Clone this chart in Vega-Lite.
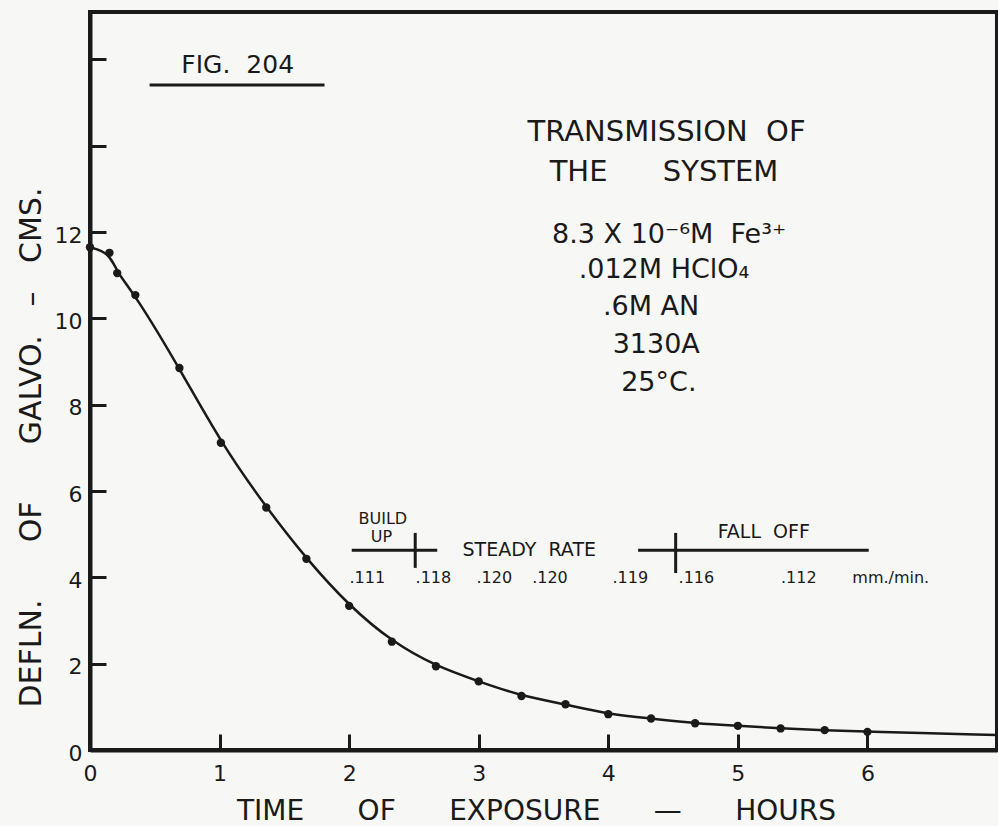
{
  "$schema": "https://vega.github.io/schema/vega-lite/v6.json",
  "width": 907,
  "height": 738,
  "autosize": {"type": "none"},
  "padding": {"left": 90, "top": 12, "right": 1, "bottom": 76},
  "background": "#f7f7f5",
  "config": {
    "view": {"stroke": "#1a1a1a", "strokeWidth": 4},
    "font": "DejaVu Sans",
    "text": {"font": "DejaVu Sans", "color": "#1a1a1a"}
  },
  "datasets": {
    "obs": [
      {"t": 0.0, "d": 11.65, "kind": "obs"},
      {"t": 0.15, "d": 11.52, "kind": "obs"},
      {"t": 0.21, "d": 11.05, "kind": "obs"},
      {"t": 0.35, "d": 10.54, "kind": "obs"},
      {"t": 0.69, "d": 8.85, "kind": "obs"},
      {"t": 1.01, "d": 7.12, "kind": "obs"},
      {"t": 1.36, "d": 5.62, "kind": "obs"},
      {"t": 1.67, "d": 4.43, "kind": "obs"},
      {"t": 2.0, "d": 3.34, "kind": "obs"},
      {"t": 2.33, "d": 2.51, "kind": "obs"},
      {"t": 2.67, "d": 1.94, "kind": "obs"},
      {"t": 3.0, "d": 1.59, "kind": "obs"},
      {"t": 3.33, "d": 1.25, "kind": "obs"},
      {"t": 3.67, "d": 1.06, "kind": "obs"},
      {"t": 4.0, "d": 0.83, "kind": "obs"},
      {"t": 4.33, "d": 0.73, "kind": "obs"},
      {"t": 4.67, "d": 0.62, "kind": "obs"},
      {"t": 5.0, "d": 0.56, "kind": "obs"},
      {"t": 5.33, "d": 0.5, "kind": "obs"},
      {"t": 5.67, "d": 0.46, "kind": "obs"},
      {"t": 6.0, "d": 0.42, "kind": "obs"},
      {"t": 7.0, "d": 0.35, "kind": "curve"}
    ],
    "titlenotes": [
      {"label": "TRANSMISSION\u00a0\u00a0OF", "t": 4.45, "d": 14.33},
      {"label": "THE\u00a0\u00a0\u00a0\u00a0\u00a0\u00a0SYSTEM", "t": 4.43, "d": 13.4}
    ],
    "bignotes": [
      {"label": "8.3 X 10⁻⁶M\u00a0\u00a0Fe³⁺", "t": 4.47, "d": 11.93},
      {"label": ".012M HClO₄", "t": 4.43, "d": 11.12},
      {"label": ".6M\u00a0AN", "t": 4.33, "d": 10.27},
      {"label": "3130A", "t": 4.37, "d": 9.38},
      {"label": "25°C.", "t": 4.39, "d": 8.5}
    ],
    "fignote": [
      {"label": "FIG.\u00a0\u00a0204", "t": 1.14, "d": 15.87}
    ],
    "midnotes": [
      {"label": "STEADY\u00a0\u00a0RATE", "t": 3.39, "d": 4.63},
      {"label": "FALL\u00a0\u00a0OFF", "t": 5.2, "d": 5.05}
    ],
    "smallnotes": [
      {"label": "BUILD", "t": 2.26, "d": 5.35},
      {"label": "UP", "t": 2.25, "d": 4.94},
      {"label": ".111", "t": 2.14, "d": 3.99},
      {"label": ".118", "t": 2.65, "d": 3.99},
      {"label": ".120", "t": 3.12, "d": 3.99},
      {"label": ".120", "t": 3.55, "d": 3.99},
      {"label": ".119", "t": 4.17, "d": 3.99},
      {"label": ".116", "t": 4.68, "d": 3.99},
      {"label": ".112", "t": 5.47, "d": 3.99},
      {"label": "mm./min.", "t": 6.18, "d": 3.99}
    ],
    "segs": [
      {"t": 2.02, "t2": 2.68, "d": 4.63, "d2": 4.63},
      {"t": 4.23, "t2": 6.01, "d": 4.63, "d2": 4.63},
      {"t": 2.51, "t2": 2.51, "d": 5.03, "d2": 4.22},
      {"t": 4.52, "t2": 4.52, "d": 5.03, "d2": 4.1},
      {"t": 0.46, "t2": 1.81, "d": 15.41, "d2": 15.41}
    ]
  },
  "encoding": {
    "x": {
      "field": "t", "type": "quantitative",
      "scale": {"domain": [0, 7], "nice": false},
      "axis": {
        "values": [0, 1, 2, 3, 4, 5, 6],
        "grid": false,
        "labelFlush": false,
        "domainColor": "#1a1a1a", "domainWidth": 4,
        "tickColor": "#1a1a1a", "tickWidth": 3, "tickSize": -16,
        "labelPadding": 29,
        "labelFontSize": 22, "labelColor": "#1a1a1a", "labelFont": "DejaVu Sans",
        "title": "TIME\u00a0\u00a0\u00a0\u00a0\u00a0\u00a0OF\u00a0\u00a0\u00a0\u00a0\u00a0\u00a0EXPOSURE\u00a0\u00a0\u00a0\u00a0\u00a0\u00a0—\u00a0\u00a0\u00a0\u00a0\u00a0\u00a0HOURS",
        "titleFontSize": 28, "titleFontWeight": "normal", "titleColor": "#1a1a1a",
        "titleFont": "DejaVu Sans", "titlePadding": 13,
        "titleX": 446
      }
    },
    "y": {
      "field": "d", "type": "quantitative",
      "scale": {"domain": [0, 17.1], "nice": false},
      "axis": {
        "values": [0, 2, 4, 6, 8, 10, 12, 14, 16],
        "labelExpr": "datum.value <= 12 ? datum.label : ''",
        "grid": false,
        "domainColor": "#1a1a1a", "domainWidth": 4,
        "tickColor": "#1a1a1a", "tickWidth": 3, "tickSize": -16,
        "labelPadding": 24,
        "labelOffset": 3,
        "labelFontSize": 22, "labelColor": "#1a1a1a", "labelFont": "DejaVu Sans",
        "title": "DEFLN.\u00a0\u00a0\u00a0\u00a0\u00a0\u00a0OF\u00a0\u00a0\u00a0\u00a0\u00a0\u00a0GALVO.\u00a0\u00a0\u00a0–\u00a0\u00a0\u00a0CMS.",
        "titleFontSize": 30, "titleFontWeight": "normal", "titleColor": "#1a1a1a",
        "titleFont": "DejaVu Sans", "titlePadding": 8,
        "titleY": 435
      }
    }
  },
  "layer": [
    {
      "data": {"name": "obs"},
      "mark": {"type": "line", "interpolate": "basis", "color": "#1a1a1a", "strokeWidth": 2.5}
    },
    {
      "data": {"name": "obs"},
      "transform": [{"filter": "datum.kind == 'obs'"}],
      "mark": {"type": "point", "filled": true, "color": "#1a1a1a", "size": 70, "opacity": 1}
    },
    {
      "data": {"name": "segs"},
      "mark": {"type": "rule", "color": "#1a1a1a", "strokeWidth": 3},
      "encoding": {
        "x2": {"field": "t2"},
        "y2": {"field": "d2"}
      }
    },
    {
      "data": {"name": "titlenotes"},
      "mark": {"type": "text", "fontSize": 29, "align": "center", "baseline": "middle"},
      "encoding": {"text": {"field": "label"}}
    },
    {
      "data": {"name": "bignotes"},
      "mark": {"type": "text", "fontSize": 27, "align": "center", "baseline": "middle"},
      "encoding": {"text": {"field": "label"}}
    },
    {
      "data": {"name": "fignote"},
      "mark": {"type": "text", "fontSize": 25, "align": "center", "baseline": "middle"},
      "encoding": {"text": {"field": "label"}}
    },
    {
      "data": {"name": "midnotes"},
      "mark": {"type": "text", "fontSize": 19, "align": "center", "baseline": "middle"},
      "encoding": {"text": {"field": "label"}}
    },
    {
      "data": {"name": "smallnotes"},
      "mark": {"type": "text", "fontSize": 16, "align": "center", "baseline": "middle"},
      "encoding": {"text": {"field": "label"}}
    }
  ]
}
